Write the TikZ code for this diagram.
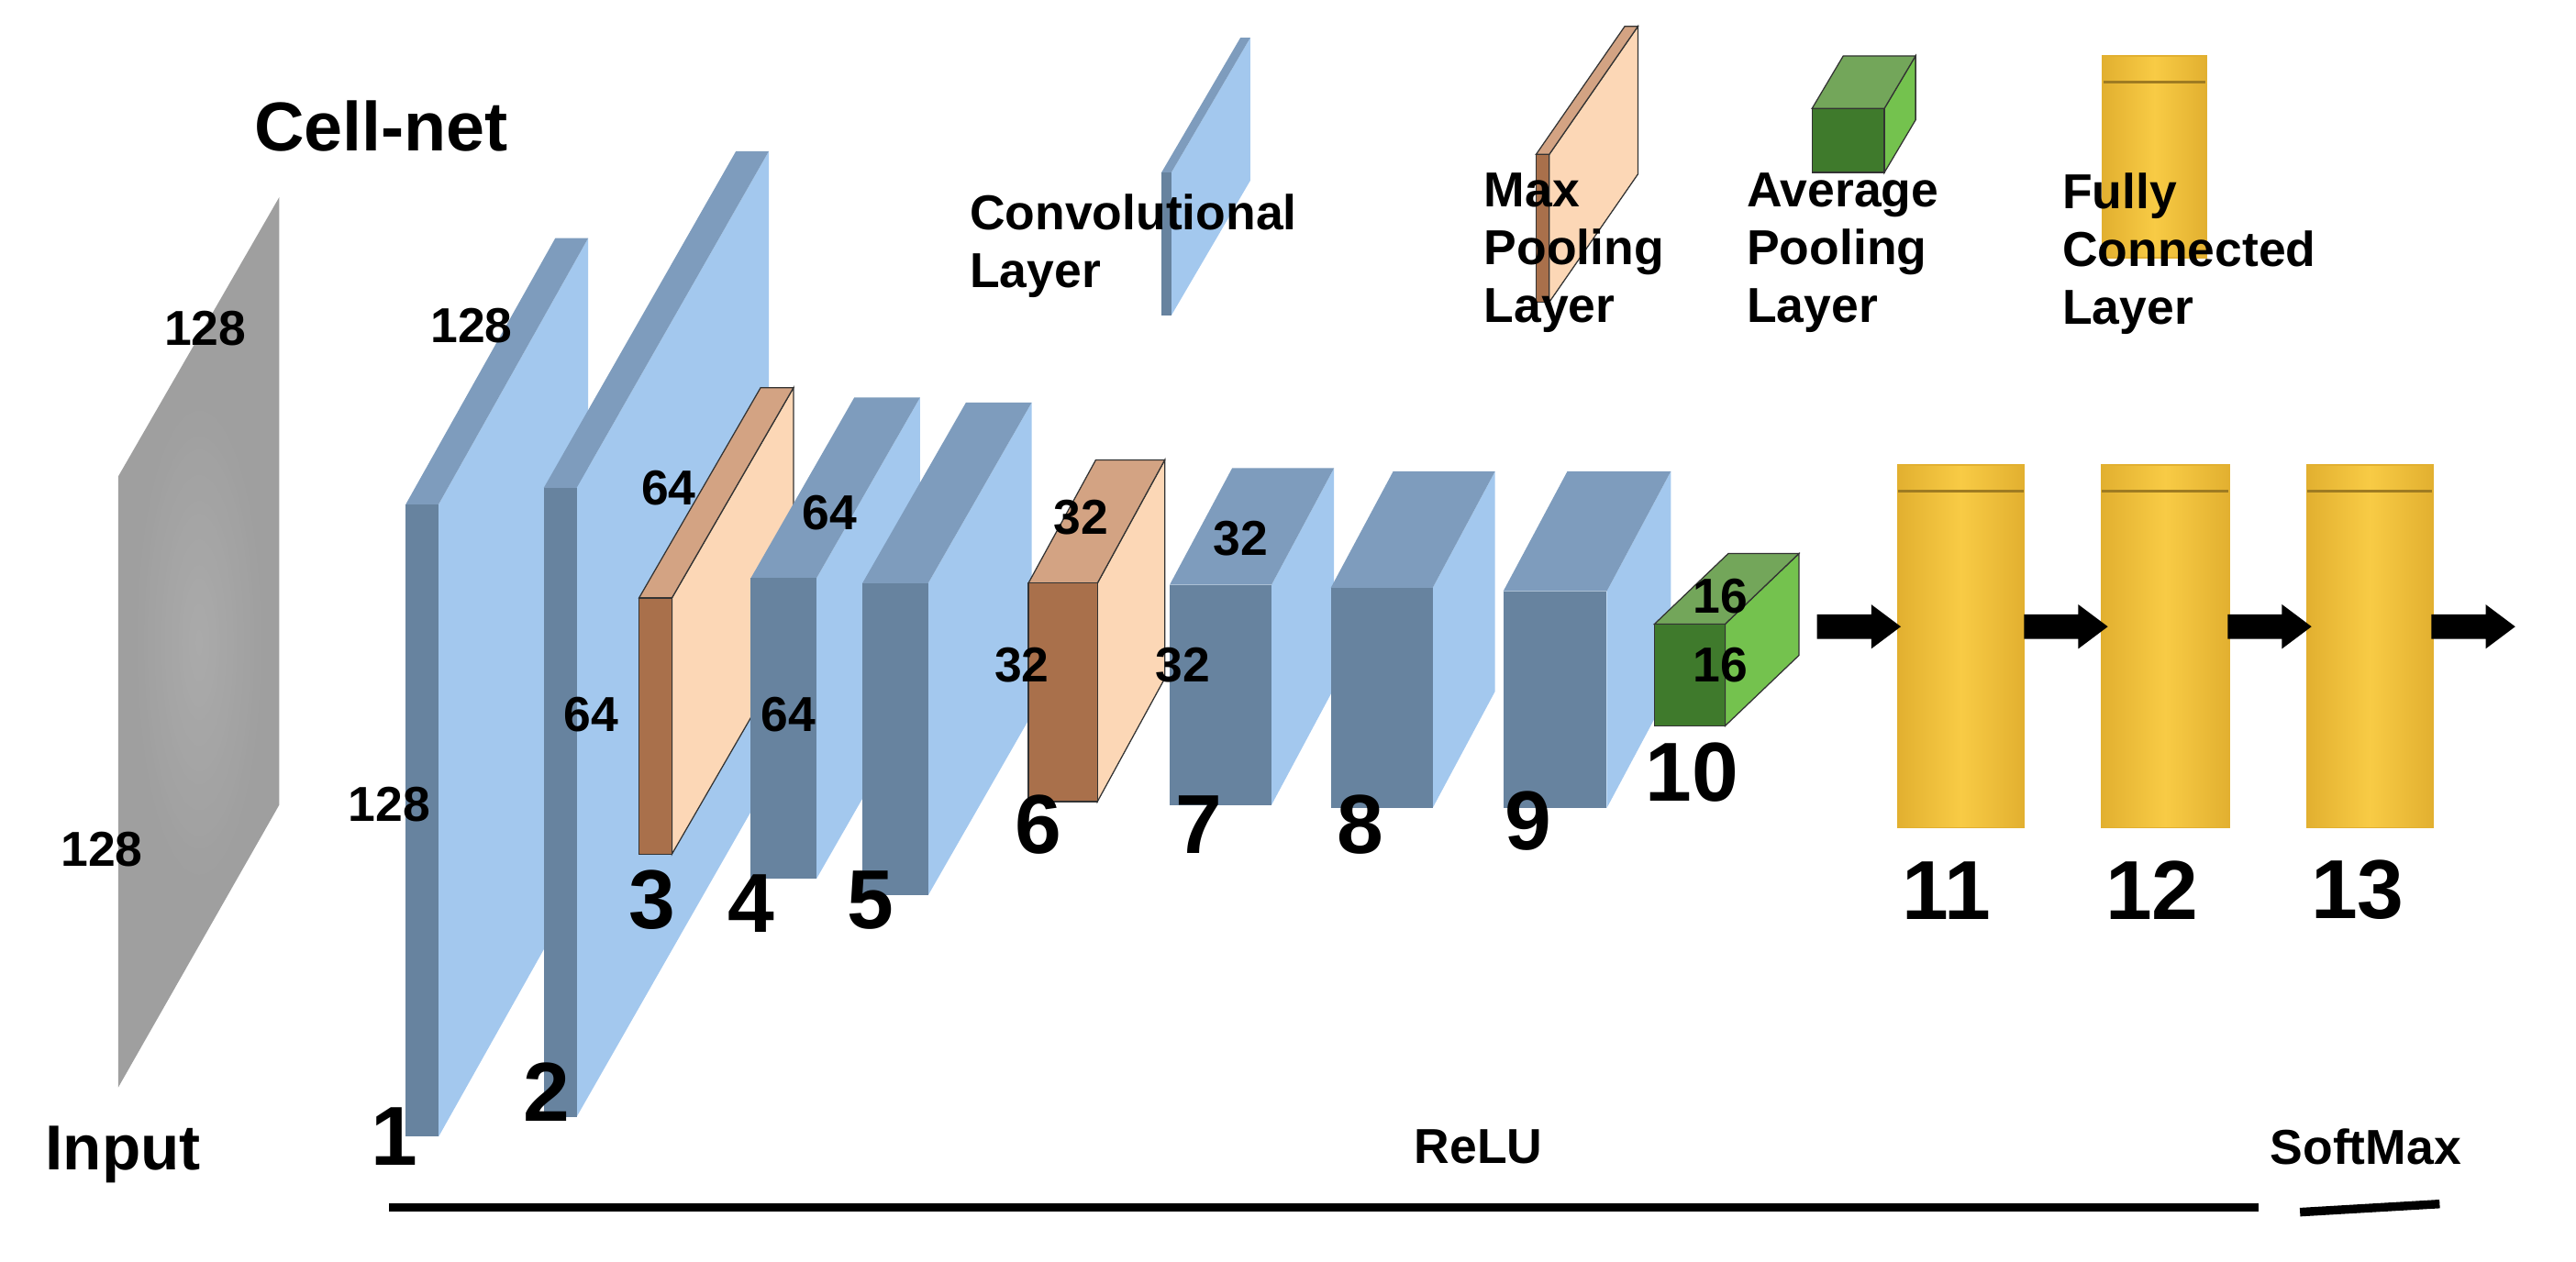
\documentclass[tikz,border=0pt]{standalone}
\usepackage{fontspec}
\setmainfont{Liberation Sans}
\begin{document}
\begin{tikzpicture}[x=0.02cm,y=-0.02cm,
  lbl/.style={font=\fontsize{17}{17}\selectfont\bfseries},
  num/.style={font=\fontsize{29}{29}\selectfont\bfseries},
  leg/.style={font=\fontsize{17}{20}\selectfont\bfseries,align=left,anchor=north west,inner sep=0},
  arr/.style={line width=0pt,fill=black}]
\definecolor{cl}{HTML}{A3C8EE}\definecolor{cf}{HTML}{67839F}\definecolor{ct}{HTML}{7E9CBD}
\definecolor{pl}{HTML}{FCD7B6}\definecolor{pf}{HTML}{A9704B}\definecolor{pt}{HTML}{D3A383}
\definecolor{gl}{HTML}{74C24E}\definecolor{gf}{HTML}{3F7A2C}\definecolor{gt}{HTML}{73A65A}
\definecolor{yl}{HTML}{F8CB45}\definecolor{yd}{HTML}{E2B030}
\useasboundingbox (0,0) rectangle (1568,768);
\newcommand{\slab}[9]{%
  \fill[#8] (#1+#2,#3) -- ++(#5,-#6) -- (#1+#2+#5,#4-#6) -- (#1+#2,#4) -- cycle;
  \fill[#9] (#1,#3) -- ++(#5,-#6) -- (#1+#2+#5,#3-#6) -- (#1+#2,#3) -- cycle;
  \fill[#7] (#1,#3) rectangle (#1+#2,#4);}
\newcommand{\eslab}[9]{%
  \filldraw[#8,draw=black!80,line width=0.4pt] (#1+#2,#3) -- ++(#5,-#6) -- (#1+#2+#5,#4-#6) -- (#1+#2,#4) -- cycle;
  \filldraw[#9,draw=black!80,line width=0.4pt] (#1,#3) -- ++(#5,-#6) -- (#1+#2+#5,#3-#6) -- (#1+#2,#3) -- cycle;
  \filldraw[#7,draw=black!80,line width=0.4pt] (#1,#3) rectangle (#1+#2,#4);}
\newcommand{\cyl}[4]{%
  \shade[left color=yd,right color=yd,middle color=yl] (#1,#3) rectangle (#2,#4);
  \draw[yd!70!black,line width=0.8pt] (#1,#3+16) -- (#2,#3+16);
  \draw[yd,line width=0.5pt] (#1,#3) rectangle (#2,#4);}
% input
\fill[gray!75] (72,290) -- (170,120) -- (170,490) -- (72,662) -- cycle;
\shade[inner color=gray!60,outer color=gray!75,opacity=0.6] (121,391) ellipse (40 and 150);
% layers
\slab{247}{20}{307}{692}{91}{162}{cf}{cl}{ct}
\slab{331}{20}{297}{680}{117}{205}{cf}{cl}{ct}
\eslab{389}{20}{364}{520}{74}{128}{pf}{pl}{pt}
\slab{457}{40}{352}{535}{63}{110}{cf}{cl}{ct}
\slab{525}{40}{355}{545}{63}{110}{cf}{cl}{ct}
\eslab{626}{42}{355}{488}{41}{75}{pf}{pl}{pt}
\slab{712}{62}{356}{490}{38}{71}{cf}{cl}{ct}
\slab{810}{62}{358}{492}{38}{71}{cf}{cl}{ct}
\slab{915}{63}{360}{492}{39}{73}{cf}{cl}{ct}
\eslab{1007}{43}{380}{442}{45}{43}{gf}{gl}{gt}
% legend shapes
\slab{707}{6}{105}{192}{48}{82}{cf}{cl}{ct}
\eslab{935}{8}{94}{184}{54}{78}{pf}{pl}{pt}
\eslab{1103}{44}{66}{105}{19}{32}{gf}{gl}{gt}
\cyl{1280}{1343}{34}{157}
\cyl{1155}{1232}{283}{504}
\cyl{1279}{1357}{283}{504}
\cyl{1404}{1481}{283}{504}
% arrows
\foreach \a in {1106,1232,1356,1480}
  \fill[arr] (\a,374) -- (\a+33,374) -- (\a+33,368) -- (\a+51,381.5) -- (\a+33,395) -- (\a+33,389) -- (\a,389) -- cycle;
% texts
\node[font=\fontsize{24}{24}\selectfont\bfseries] (title) at (232,77) {Cell-net};
\node[font=\fontsize{22}{22}\selectfont\bfseries] (input) at (75,703) {Input};
\node[font=\fontsize{17}{17}\selectfont\bfseries] (relu) at (900,698) {ReLU};
\node[font=\fontsize{17}{17}\selectfont\bfseries] (smax) at (1440,698) {SoftMax};
\draw[line width=3pt] (237,735) -- (1375,735);
\draw[line width=3pt] (1400,738) -- (1485,733);
\node[leg] (lc) at (590,118) {Convolutional\\Layer};
\node[leg] (lm) at (903,105) {Max\\Pooling\\Layer};
\node[leg] (la) at (1063,105) {Average\\Pooling\\Layer};
\node[leg] (lf) at (1255,105) {Fully\\Connected\\Layer};
\foreach \p/\t in {{125,200}/128,{287,198}/128,{62,517}/128,{237,490}/128,
  {407,297}/64,{360,435}/64,{505,312}/64,{480,435}/64,
  {658,315}/32,{622,405}/32,{720,405}/32,{755,328}/32,
  {1047,363}/16,{1047,405}/16}
  \node[lbl] at (\p) {\t};
\foreach \p/\t in {{240,692}/1,{333,665}/2,{397,548}/3,{457,550}/4,{530,548}/5,
  {632,502}/6,{730,502}/7,{828,502}/8,{930,500}/9,{1030,470}/10,
  {1185,542}/11,{1310,542}/12,{1435,542}/13}
  \node[num] at (\p) {\t};
\end{tikzpicture}
\end{document}
